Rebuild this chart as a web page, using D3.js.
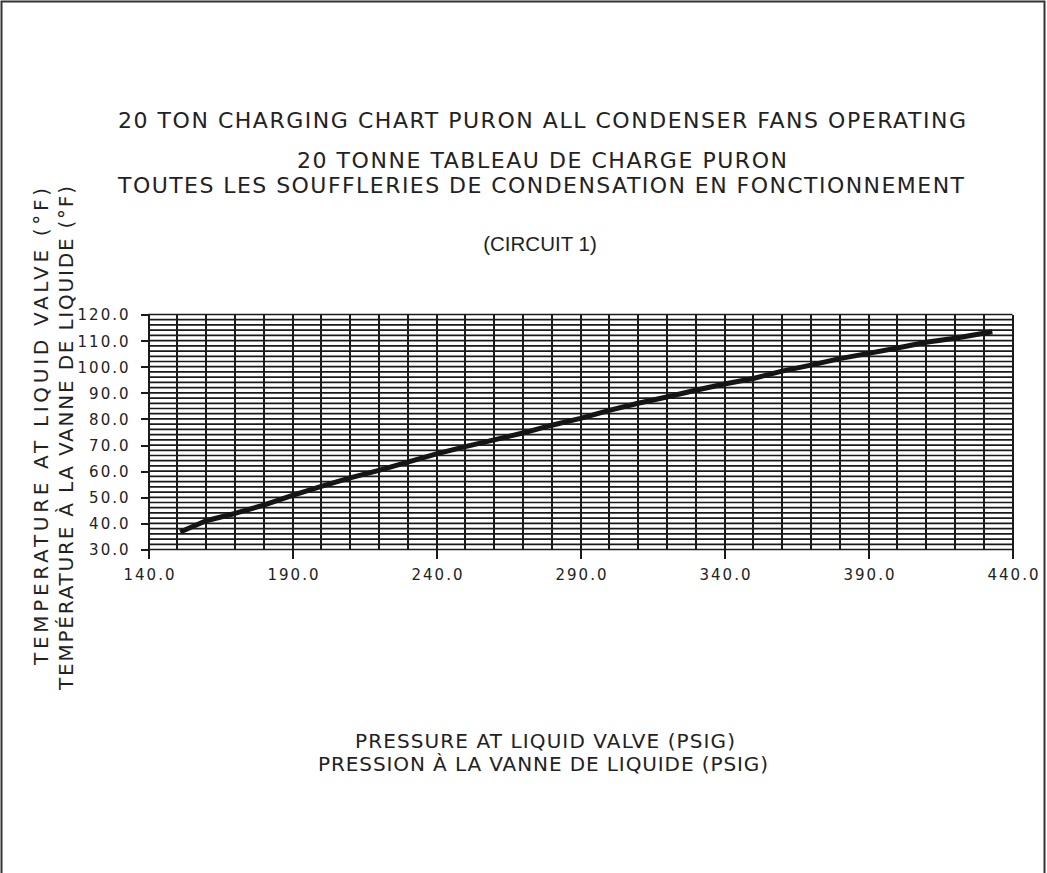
<!DOCTYPE html>
<html>
<head>
<meta charset="utf-8">
<script src="https://cdn.jsdelivr.net/npm/d3@7"></script>
<style>
  html, body { margin: 0; padding: 0; background: #fff; }
  svg { display: block; }
  .plot-font { font-family: "DejaVu Sans", sans-serif; fill: #222; }
</style>
</head>
<body>
<svg id="chart" width="1047" height="873"></svg>
<script>
// ---- data ----
const pressure = [151, 160, 170, 180, 190, 200, 210, 220, 230, 240, 250, 260, 270, 280, 290,
                  300, 310, 320, 330, 340, 350, 360, 370, 380, 390, 400, 410, 420, 433];
const temperature = [36.7, 41.0, 43.8, 47.0, 50.7, 54.2, 57.4, 60.3, 63.5, 66.6, 69.4, 72.0, 74.6, 77.6, 80.2,
                     83.3, 86.0, 88.4, 91.0, 93.4, 95.5, 98.3, 100.6, 103.1, 105.1, 107.2, 109.4, 110.9, 113.4];
const xTicks = [140, 190, 240, 290, 340, 390, 440];
const yTicks = [30, 40, 50, 60, 70, 80, 90, 100, 110, 120];
const xGrid = d3.range(140, 441, 10);
const yGrid = d3.range(30, 121, 2);
const titleLines = [
  "20 TON CHARGING CHART PURON ALL CONDENSER FANS OPERATING",
  "20 TONNE TABLEAU DE CHARGE PURON",
  "TOUTES LES SOUFFLERIES DE CONDENSATION EN FONCTIONNEMENT"
];
const subtitle = "(CIRCUIT 1)";
const xTitle = ["PRESSURE AT LIQUID VALVE (PSIG)", "PRESSION À LA VANNE DE LIQUIDE (PSIG)"];
const yTitle = ["TEMPERATURE AT LIQUID VALVE (°F)", "TEMPÉRATURE À LA VANNE DE LIQUIDE (°F)"];

// ---- drawing ----
const svg = d3.select("#chart");
const x = d3.scaleLinear().domain([140, 440]).range([148.5, 1012.5]);
const y = d3.scaleLinear().domain([30, 120]).range([549.5, 314.5]);

// outer frame
svg.append("rect").attr("x", 1.5).attr("y", 1.5).attr("width", 1043).attr("height", 880)
  .attr("fill", "none").attr("stroke", "#333").attr("stroke-width", 2);

// grid
const grid = svg.append("g");
grid.selectAll("line.h").data(yGrid).join("line").attr("class", "h")
  .attr("x1", x(140)).attr("x2", x(440))
  .attr("y1", d => y(d)).attr("y2", d => y(d))
  .attr("stroke", "#1a1a1a").attr("stroke-width", 1.7);
grid.selectAll("line.v").data(xGrid).join("line").attr("class", "v")
  .attr("x1", d => x(d)).attr("x2", d => x(d))
  .attr("y1", y(30)).attr("y2", y(120))
  .attr("stroke", "#1a1a1a").attr("stroke-width", 2)
  .attr("shape-rendering", "crispEdges");

// axes
const yAxis = svg.append("g").attr("transform", `translate(${x(140)},0)`)
  .call(d3.axisLeft(y).tickValues(yTicks).tickSize(8).tickPadding(12).tickFormat(d => d.toFixed(1)));
const xAxis = svg.append("g").attr("transform", `translate(0,${y(30)})`)
  .call(d3.axisBottom(x).tickValues(xTicks).tickSize(9).tickPadding(11).tickFormat(d => d.toFixed(1)));
[yAxis, xAxis].forEach(a => {
  a.attr("shape-rendering", "crispEdges");
  a.selectAll(".tick line").attr("stroke", "#1a1a1a").attr("stroke-width", 2);
  a.selectAll("text").attr("class", "plot-font")
    .style("font-family", '"DejaVu Sans", sans-serif').style("font-size", "15px")
    .style("letter-spacing", "2px").attr("fill", "#222");
});
yAxis.selectAll(".domain").remove();
xAxis.selectAll(".domain").remove();
yAxis.selectAll("text").attr("x", -18).attr("dy", "0.36em");
xAxis.selectAll("text").attr("dx", "1px");

// curve
const pts = pressure.map((p, i) => [p, temperature[i]]);
svg.append("path").datum(pts)
  .attr("d", d3.line().x(d => x(d[0])).y(d => y(d[1])))
  .attr("fill", "none").attr("stroke", "#151515").attr("stroke-width", 5)
  .attr("stroke-linejoin", "round").attr("stroke-linecap", "butt");

// titles
function spanText(txt, x0, x1, yb, size) {
  return svg.append("text").attr("class", "plot-font")
    .attr("x", x0).attr("y", yb)
    .attr("textLength", x1 - x0).attr("lengthAdjust", "spacing")
    .style("font-size", size + "px").text(txt);
}
spanText(titleLines[0], 118, 966, 128, 22);
spanText(titleLines[1], 297, 787, 168, 22);
spanText(titleLines[2], 118, 964, 193, 22);

svg.append("text").attr("x", 540).attr("y", 251).attr("text-anchor", "middle")
  .style("font-family", '"Liberation Sans", Arial, sans-serif').style("font-size", "20.5px")
  .attr("fill", "#222").text(subtitle);

spanText(xTitle[0], 355, 735, 748, 20);
spanText(xTitle[1], 318, 768, 771, 20);

// rotated y titles
function vText(txt, xb, yBottom, yTop, size) {
  const g = svg.append("g").attr("transform", `translate(${xb},${yBottom}) rotate(-90)`);
  g.append("text").attr("class", "plot-font").attr("x", 0).attr("y", 0)
    .attr("textLength", yBottom - yTop).attr("lengthAdjust", "spacing")
    .style("font-size", size + "px").text(txt);
}
vText(yTitle[0], 48, 665, 188, 20);
vText(yTitle[1], 73, 690, 186, 20);
</script>
</body>
</html>
